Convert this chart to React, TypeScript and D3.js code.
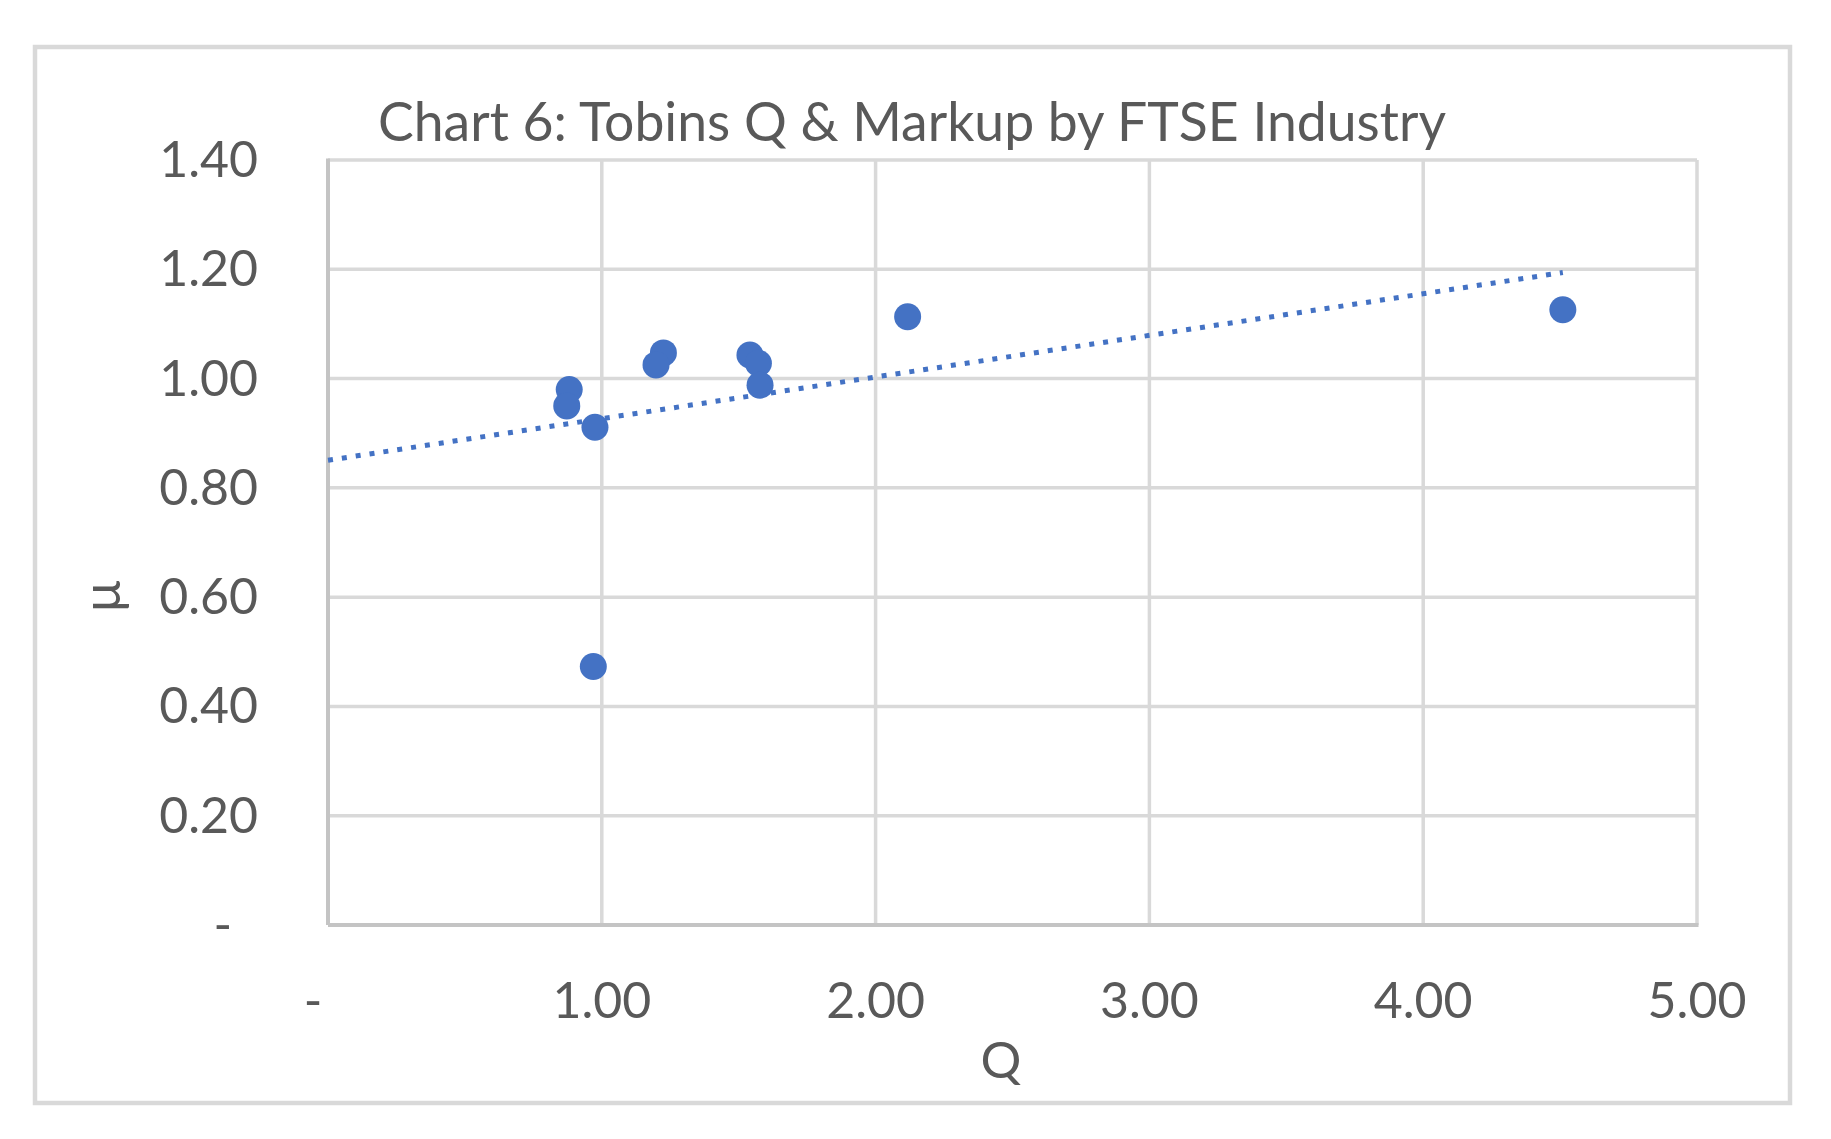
import React, { useEffect } from "react";
import * as d3 from "d3";

// Data (Tobin's Q vs markup µ by FTSE industry)
const qValues = [0.881, 0.872, 0.975, 1.225, 1.198, 1.541, 1.572, 1.578, 0.969, 2.117, 4.51];
const muValues = [0.98, 0.95, 0.911, 1.047, 1.025, 1.043, 1.028, 0.988, 0.473, 1.113, 1.126];
const xTicks = [0, 1, 2, 3, 4, 5];
const yTicks = [0, 0.2, 0.4, 0.6, 0.8, 1.0, 1.2, 1.4];
const title = "Chart 6: Tobins Q & Markup by FTSE Industry";
const xTitle = "Q";
const yTitle = "µ";

const W = 1831;
const H = 1139;
const plot = { left: 328, right: 1697, top: 160, bottom: 925 };
const FONT = "Lato, 'Open Sans', sans-serif";
const TEXT = "#595959";
const BLUE = "#4472C4";

function fmt(v: number) {
  return v === 0 ? "-" : v.toFixed(2);
}

export default function App() {
  useEffect(() => {
    document.body.style.margin = "0";
  }, []);

  const x = d3.scaleLinear().domain([0, 5]).range([plot.left, plot.right]);
  const y = d3.scaleLinear().domain([0, 1.4]).range([plot.bottom, plot.top]);

  // linear least-squares trendline
  const mx = d3.mean(qValues)!;
  const my = d3.mean(muValues)!;
  let sxy = 0, sxx = 0;
  qValues.forEach((q, i) => {
    sxy += (q - mx) * (muValues[i] - my);
    sxx += (q - mx) * (q - mx);
  });
  const slope = sxy / sxx;
  const intercept = my - slope * mx;
  const qMax = d3.max(qValues)!;
  const trend = d3.line<number>().x((q) => x(q)).y((q) => y(intercept + slope * q));

  return (
    <svg width={W} height={H} style={{ display: "block", background: "#fff" }}>
      <rect x={35} y={47} width={1755} height={1056} fill="#fff" stroke="#d9d9d9" strokeWidth={4.5} />
      <text x={912} y={141} textAnchor="middle" fontFamily={FONT} fontSize={53.5} fill={TEXT}>
        {title}
      </text>
      {/* gridlines */}
      {yTicks.filter((t) => t > 0).map((t) => (
        <line key={"gy" + t} x1={plot.left} x2={plot.right} y1={y(t)} y2={y(t)} stroke="#d9d9d9" strokeWidth={3.5} />
      ))}
      {xTicks.filter((t) => t > 0).map((t) => (
        <line key={"gx" + t} x1={x(t)} x2={x(t)} y1={plot.top} y2={plot.bottom} stroke="#d9d9d9" strokeWidth={3.5} />
      ))}
      {/* axes */}
      <line x1={plot.left} x2={plot.left} y1={plot.top - 1.5} y2={plot.bottom} stroke="#c4c4c4" strokeWidth={4} />
      <line x1={plot.left} x2={plot.right + 1.5} y1={plot.bottom} y2={plot.bottom} stroke="#c4c4c4" strokeWidth={4} />
      {/* y tick labels */}
      {yTicks.map((t) => (
        <text key={"yl" + t} x={t === 0 ? 232 : 258} y={y(t) + 17} textAnchor="end" fontFamily={FONT} fontSize={50} fill={TEXT}>
          {fmt(t)}
        </text>
      ))}
      {/* x tick labels */}
      {xTicks.map((t) => (
        <text key={"xl" + t} x={t === 0 ? 313 : x(t)} y={1018} textAnchor="middle" fontFamily={FONT} fontSize={50} fill={TEXT}>
          {fmt(t)}
        </text>
      ))}
      <text x={1001} y={1078} textAnchor="middle" fontFamily={FONT} fontSize={51} fill={TEXT}>
        {xTitle}
      </text>
      <text transform="translate(120,596) rotate(-90)" textAnchor="middle" fontFamily={FONT} fontSize={52} fill={TEXT}>
        {yTitle}
      </text>
      {/* trendline */}
      <path d={trend([0, qMax]) || ""} fill="none" stroke={BLUE} strokeWidth={5} strokeDasharray="5 9" />
      {/* points */}
      {qValues.map((q, i) => (
        <circle key={"p" + i} cx={x(q)} cy={y(muValues[i])} r={13.5} fill={BLUE} />
      ))}
    </svg>
  );
}
